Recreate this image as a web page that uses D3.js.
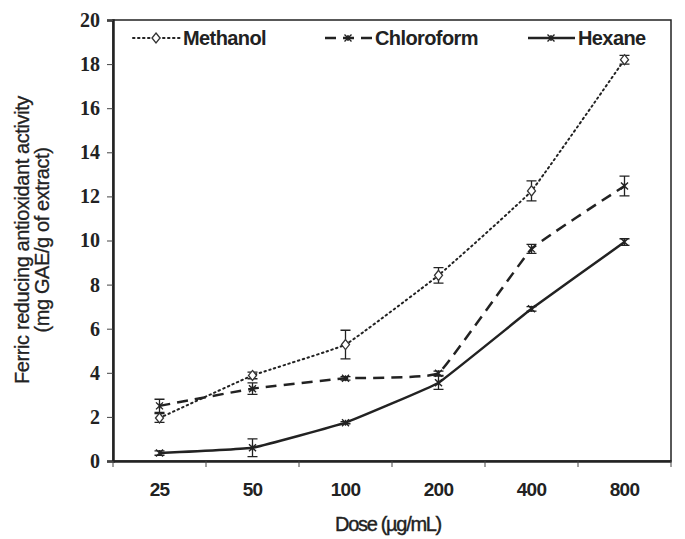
<!DOCTYPE html>
<html>
<head>
<style>
body { margin: 0; background: #fff; }
</style>
</head>
<body>
<div id="chart"></div>
<script src="https://d3js.org/d3.v7.min.js"></script>
<script>
const width = 685;
const height = 539;

// data
const doses = ["25", "50", "100", "200", "400", "800"];
const methanol = [1.95, 3.88, 5.28, 8.42, 12.25, 18.2];
const methanolErr = [0.2, 0.15, 0.65, 0.35, 0.45, 0.2];
const chloroform = [2.5, 3.28, 3.75, 3.98, 9.62, 12.47];
const chloroformErr = [0.3, 0.26, 0.08, 0.1, 0.2, 0.45];
const hexane = [0.36, 0.6, 1.74, 3.55, 6.9, 9.93];
const hexaneErr = [0.1, 0.4, 0.05, 0.3, 0.1, 0.15];
const yTicks = [0, 2, 4, 6, 8, 10, 12, 14, 16, 18, 20];

const margin = { left: 113, right: 14, top: 20, bottom: 78 };

const svg = d3.select("#chart").append("svg")
  .attr("width", width)
  .attr("height", height);

svg.append("rect").attr("width", width).attr("height", height).attr("fill", "#fff");

const x = d3.scaleBand()
  .domain(doses)
  .range([margin.left, width - margin.right])
  .padding(0);

const y = d3.scaleLinear()
  .domain([0, 20])
  .range([height - margin.bottom, margin.top]);

// plot box
svg.append("rect")
  .attr("x", margin.left)
  .attr("y", margin.top)
  .attr("width", width - margin.left - margin.right)
  .attr("height", height - margin.top - margin.bottom)
  .attr("fill", "none")
  .attr("stroke", "#222")
  .attr("stroke-width", 1.5);

// y axis
const yAxis = svg.append("g")
  .attr("transform", `translate(${margin.left},0)`)
  .call(d3.axisLeft(y).tickValues(yTicks).tickSize(6).tickPadding(7));
yAxis.select(".domain").attr("stroke-width", 2.5).attr("stroke", "#222");
yAxis.selectAll(".tick line").attr("stroke", "#444").attr("stroke-width", 1);
yAxis.selectAll("text")
  .attr("font-family", "Liberation Serif, serif")
  .attr("font-weight", "bold")
  .attr("font-size", 20)
  .attr("fill", "#222");

// x axis: ticks at category boundaries
const xAxis = svg.append("g")
  .attr("transform", `translate(0,${height - margin.bottom})`)
  .call(d3.axisBottom(x).tickSize(0).tickPadding(22));
xAxis.select(".domain").attr("stroke-width", 2.5).attr("stroke", "#222");
xAxis.selectAll("text")
  .attr("font-family", "Liberation Sans, Arial, sans-serif")
  .attr("font-weight", "bold")
  .attr("font-size", 19)
  .attr("letter-spacing", -0.8)
  .attr("fill", "#222");
const boundaries = doses.map(d => x(d)).concat([x.range()[1]]);
xAxis.selectAll(".bound")
  .data(boundaries)
  .join("line")
  .attr("x1", d => d).attr("x2", d => d)
  .attr("y1", 0).attr("y2", 6)
  .attr("stroke", "#444");

// axis titles
svg.append("text")
  .attr("x", 388)
  .attr("y", 531)
  .attr("text-anchor", "middle")
  .attr("font-family", "Liberation Sans, Arial, sans-serif")
  .attr("font-size", 20)
  .attr("letter-spacing", -1.3)
  .attr("fill", "#222")
  .attr("stroke", "#222")
  .attr("stroke-width", 0.4)
  .text("Dose (µg/mL)");

const yTitle = svg.append("text")
  .attr("transform", "translate(29,240) rotate(-90)")
  .attr("text-anchor", "middle")
  .attr("font-family", "Liberation Sans, Arial, sans-serif")
  .attr("font-size", 20)
  .attr("letter-spacing", -0.4)
  .attr("fill", "#222")
  .attr("stroke", "#222")
  .attr("stroke-width", 0.3);
yTitle.append("tspan").attr("x", 0).attr("dy", 0).text("Ferric reducing antioxidant activity");
yTitle.append("tspan").attr("x", 0).attr("dy", 20).text("(mg GAE/g of extract)");

const series = [
  { name: "Methanol", values: methanol, err: methanolErr, dash: "1.5,3.5", width: 2, cap: "round", marker: "diamond", lx: 133 },
  { name: "Chloroform", values: chloroform, err: chloroformErr, dash: "11,7", width: 2.5, cap: "butt", marker: "cross", lx: 325 },
  { name: "Hexane", values: hexane, err: hexaneErr, dash: null, width: 2.5, cap: "butt", marker: "cross", lx: 528 }
];

const cx = d => x(d) + x.bandwidth() / 2;
const line = d3.line().x(d => cx(d.dose)).y(d => y(d.v)).curve(d3.curveCardinal.tension(0.75));

function drawMarker(g, type, px, py) {
  if (type === "diamond") {
    g.append("path")
      .attr("d", `M${px},${py - 5}L${px + 4},${py}L${px},${py + 5}L${px - 4},${py}Z`)
      .attr("fill", "#fff").attr("stroke", "#333").attr("stroke-width", 1.3);
  } else {
    g.append("path")
      .attr("d", `M${px - 3.5},${py - 3.5}L${px + 3.5},${py + 3.5}M${px - 3.5},${py + 3.5}L${px + 3.5},${py - 3.5}M${px},${py - 3}L${px},${py + 3}`)
      .attr("stroke", "#222").attr("stroke-width", 1.4);
  }
}

series.forEach(s => {
  const pts = doses.map((d, i) => ({ dose: d, v: s.values[i], e: s.err[i] }));
  const g = svg.append("g");
  g.append("path")
    .datum(pts)
    .attr("d", line)
    .attr("fill", "none")
    .attr("stroke", "#222")
    .attr("stroke-width", s.width)
    .attr("stroke-linecap", s.cap)
    .attr("stroke-dasharray", s.dash);

  // error bars
  pts.forEach(p => {
    const px = cx(p.dose);
    const y0 = y(p.v - p.e), y1 = y(p.v + p.e);
    g.append("path")
      .attr("d", `M${px},${y0}L${px},${y1}M${px - 5},${y0}L${px + 5},${y0}M${px - 5},${y1}L${px + 5},${y1}`)
      .attr("stroke", "#222").attr("stroke-width", 1.3).attr("fill", "none");
    drawMarker(g, s.marker, px, y(p.v));
  });

  // legend entry
  const ly = 38;
  g.append("line")
    .attr("x1", s.lx).attr("x2", s.lx + 47)
    .attr("y1", ly).attr("y2", ly)
    .attr("stroke", "#222")
    .attr("stroke-width", s.width)
    .attr("stroke-linecap", s.cap)
    .attr("stroke-dasharray", s.dash);
  drawMarker(g, s.marker, s.lx + 23, ly);
  g.append("text")
    .attr("x", s.lx + 50)
    .attr("y", ly + 7)
    .attr("font-family", "Liberation Sans, Arial, sans-serif")
    .attr("font-weight", "bold")
    .attr("font-size", 20)
    .attr("letter-spacing", -0.6)
    .attr("fill", "#222")
    .text(s.name);
});
</script>
</body>
</html>
